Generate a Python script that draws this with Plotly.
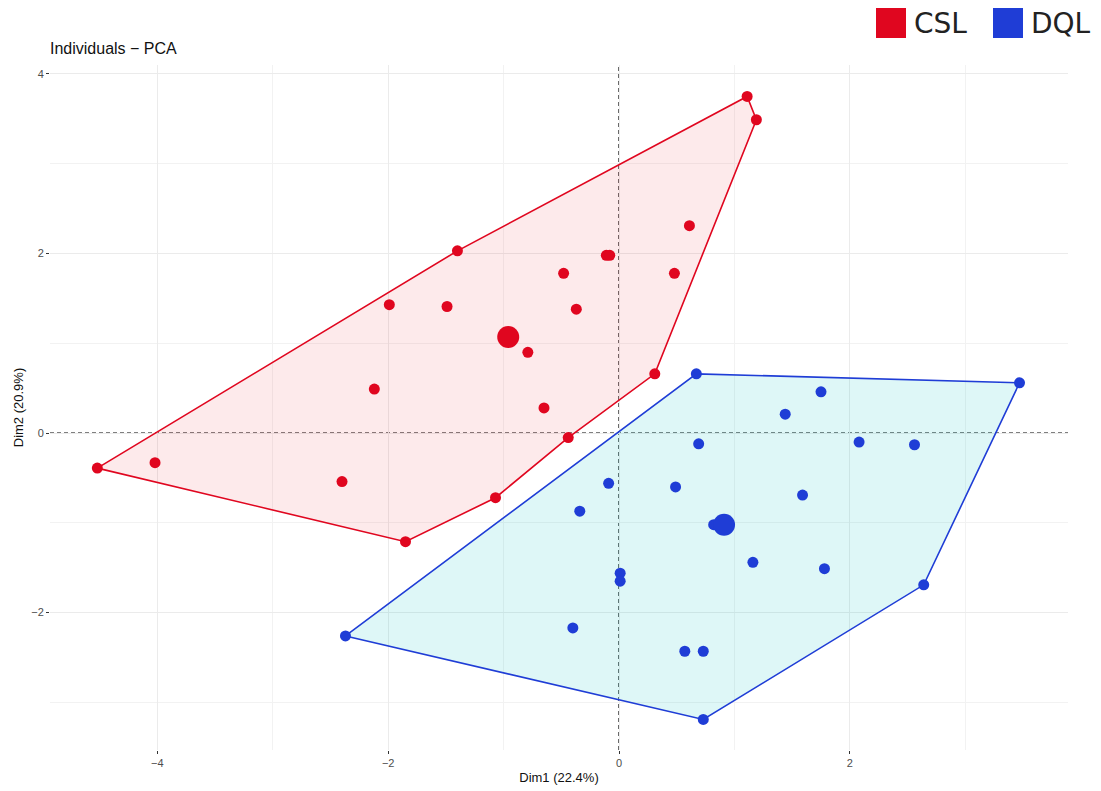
import plotly.graph_objects as go

# ---------------- data ----------------
csl_x = [-4.52, -4.02, -2.40, -2.12, -1.99, -1.49, -1.40, -1.85, -1.07, -0.79, -0.65,
         -0.44, -0.48, -0.37, -0.11, -0.08, 0.31, 0.48, 0.61, 1.11, 1.19]
csl_y = [-0.39, -0.33, -0.54, 0.49, 1.43, 1.41, 2.03, -1.21, -0.72, 0.90, 0.28,
         -0.05, 1.78, 1.38, 1.98, 1.98, 0.66, 1.78, 2.31, 3.75, 3.49]
csl_hull = [0, 6, 19, 20, 16, 11, 8, 7, 0]
csl_center = (-0.96, 1.07)

dql_x = [0.67, 3.47, 1.75, 1.44, 0.69, 2.08, 2.56, -0.09, 0.49, 1.59, -0.34,
         0.82, 1.16, 1.78, 0.01, 0.01, 2.64, -2.37, -0.40, 0.57, 0.73, 0.73]
dql_y = [0.66, 0.56, 0.46, 0.21, -0.12, -0.10, -0.13, -0.56, -0.60, -0.69, -0.87,
         -1.02, -1.44, -1.51, -1.56, -1.65, -1.69, -2.26, -2.17, -2.43, -2.43, -3.19]
dql_hull = [17, 0, 1, 16, 21, 17]
dql_center = (0.91, -1.02)

groups = ["CSL", "DQL"]
x_ticks = [-4, -2, 0, 2]
y_ticks = [-2, 0, 2, 4]

RED = "#E0061F"
BLUE = "#1F3DD6"
RED_FILL = "rgba(230,20,30,0.09)"
BLUE_FILL = "rgba(0,191,196,0.13)"

fig = go.Figure()

series = [
    (groups[0], csl_x, csl_y, csl_hull, csl_center, RED, RED_FILL),
    (groups[1], dql_x, dql_y, dql_hull, dql_center, BLUE, BLUE_FILL),
]
for name, xs, ys, hull, cen, col, fill in series:
    fig.add_trace(go.Scatter(
        x=[xs[i] for i in hull], y=[ys[i] for i in hull],
        mode="lines", fill="toself", fillcolor=fill,
        line=dict(color=col, width=1.6), showlegend=False, hoverinfo="skip"))
    fig.add_trace(go.Scatter(
        x=xs, y=ys, mode="markers", name=name,
        marker=dict(color=col, size=11, line=dict(width=0)), showlegend=False))
    fig.add_trace(go.Scatter(
        x=[cen[0]], y=[cen[1]], mode="markers", name=name + " centre",
        marker=dict(color=col, size=22, line=dict(width=0)), showlegend=False))

# dashed reference lines at zero
fig.add_shape(type="line", xref="x", yref="paper", x0=0, x1=0, y0=0, y1=1,
              line=dict(color="black", width=1.2, dash="4px,3px"), layer="between")
fig.add_shape(type="line", xref="paper", yref="y", x0=0, x1=1, y0=0, y1=0,
              line=dict(color="black", width=1.2, dash="4px,3px"), layer="between")

# page body adds an 8px offset; target positions are in screenshot pixels
OFF = 8
W, H = 1101, 791
PL, PR, PT, PB = 50, 1068, 65, 750          # plot area in screenshot pixels
ML, MT = PL - OFF, PT - OFF
pw, ph = PR - PL, PB - PT
MR, MB = W - ML - pw, H - MT - ph


def px2paper(px, py):
    return (px - PL) / pw, (PB - py) / ph


# custom legend (top right)
legend_items = [(groups[0], RED, 876), (groups[1], BLUE, 993)]
for name, col, px in legend_items:
    x0, y0 = px2paper(px, 38)
    x1, y1 = px2paper(px + 30, 8)
    fig.add_shape(type="rect", xref="paper", yref="paper", x0=x0, x1=x1, y0=y0, y1=y1,
                  fillcolor=col, line=dict(width=0))
    tx, ty = px2paper(px + 36, 24)
    fig.add_annotation(xref="paper", yref="paper", x=tx, y=ty, text=name,
                       showarrow=False, xanchor="left", yanchor="middle",
                       font=dict(family="DejaVu Sans", size=28, color="#222222"))

axis_common = dict(
    showgrid=True, gridcolor="#EBEBEB", gridwidth=1,
    zeroline=False, showline=False, automargin=False,
    ticks="outside", ticklen=3, tickwidth=1, tickcolor="#333333",
    tickfont=dict(family="Liberation Sans, Arial", size=11, color="#4D4D4D"),
    minor=dict(dtick=1, showgrid=True, gridcolor="#F2F2F2", gridwidth=1, ticks=""),
)

fig.update_layout(
    width=W, height=H,
    margin=dict(l=ML, r=MR, t=MT, b=MB, autoexpand=False),
    paper_bgcolor="white", plot_bgcolor="white",
    title=dict(text="Individuals − PCA", x=(PL - OFF) / W, xanchor="left",
               y=1 - (48 - OFF) / H, yanchor="middle", automargin=False,
               font=dict(family="Liberation Sans, Arial", size=16, color="#111111")),
    xaxis=dict(axis_common, range=[-4.93, 3.89], tickvals=x_ticks,
               ticktext=[str(v).replace("-", "−") for v in x_ticks],
               title=dict(text="Dim1 (22.4%)", standoff=4,
                          font=dict(family="Liberation Sans, Arial", size=13, color="#111111"))),
    yaxis=dict(axis_common, range=[-3.53, 4.10], tickvals=y_ticks,
               ticktext=[str(v).replace("-", "−") for v in y_ticks],
               title=dict(text="Dim2 (20.9%)", standoff=4,
                          font=dict(family="Liberation Sans, Arial", size=13, color="#111111"))),
    showlegend=False,
)

fig.write_html("out.html")
